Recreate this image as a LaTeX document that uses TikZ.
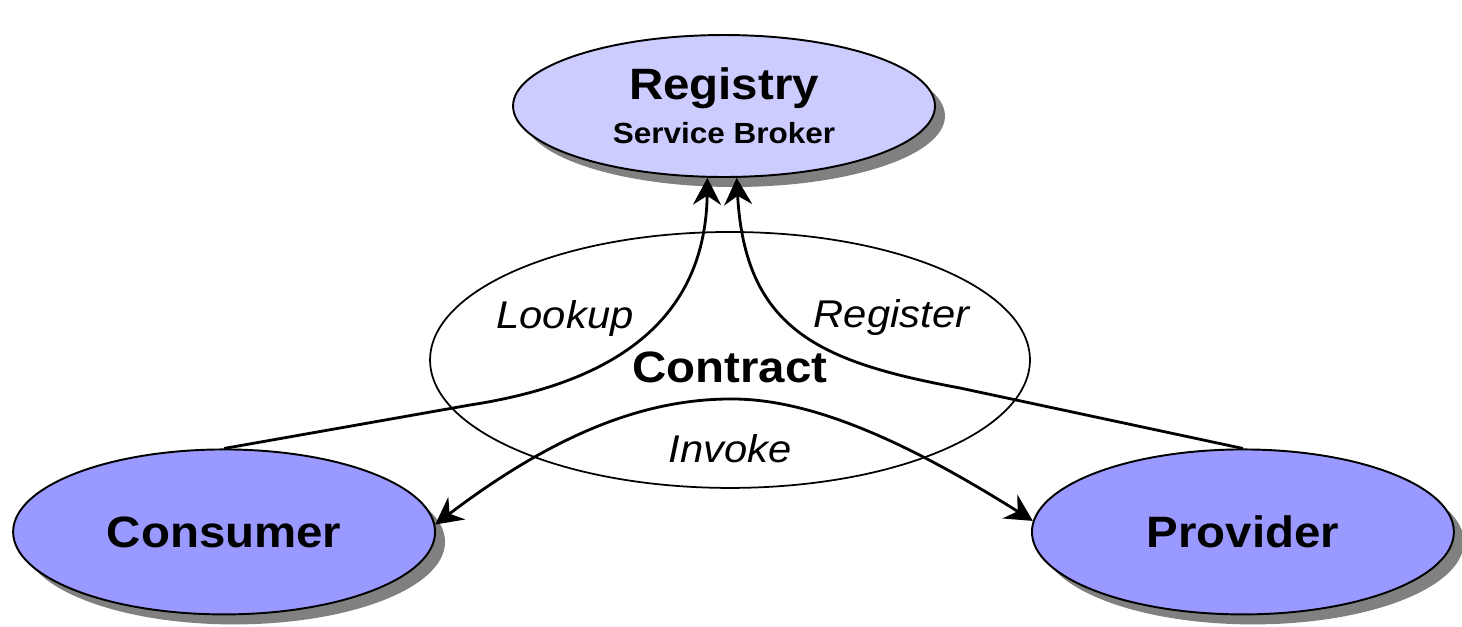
\documentclass[tikz,border=0pt]{standalone}
\usepackage{fontspec}
\setmainfont{Liberation Sans}[FakeStretch=1.08]
\usepackage{xcolor}
\usepackage{tikz}
\usetikzlibrary{arrows.meta, shapes, shadows, positioning}
\definecolor{regfill}{HTML}{CCCCFF}
\definecolor{partyfill}{HTML}{9999FF}
\tikzset{
    ellipsenode/.style = {draw, ellipse, line width=1.1pt, inner sep = 0em, node distance=0em,
      minimum width=8.44cm, minimum height=3.3cm,
      drop shadow={shadow xshift=0.2cm, shadow yshift=-0.2cm, fill=black!50, opacity=1}},
    contractnode/.style = {draw, ellipse, line width=1pt, inner sep = 0em, node distance=0em,
      minimum width=12cm, minimum height=5.12cm},
    textnode/.style = {draw=none, fill=none, rectangle, inner sep = 0em, node distance=0em},
    >={Stealth[length=0.54cm, width=0.56cm, inset=0.18cm]},
    connect/.style = {black, line width=1.6pt, ->},
    biconnect/.style = {black, line width=1.6pt, <->},
    every text node part/.style={align=center}
}
\newcommand{\headfont}{\fontsize{25}{30}\selectfont\bfseries}
\newcommand{\subfont}{\fontsize{16.6}{20}\selectfont\bfseries}
\newcommand{\tagfont}{\fontsize{22}{26}\selectfont\itshape}

\begin{document}
\begin{tikzpicture}[x=0.02cm, y=-0.02cm]
    \useasboundingbox (0,0) rectangle (1462,626);

    \node [name=registry, ellipsenode, fill=regfill, minimum height=2.84cm] at (724,106)
        {{\headfont Registry}\\[6.5pt]{\subfont Service Broker}};

    \node [name=contract, contractnode, below of = registry, xshift=0.12cm, yshift=-5.08cm] {};

    \node [name=consumer, ellipsenode, fill=partyfill, below of = contract,
        xshift=-10.12cm, yshift=-3.44cm] {\headfont Consumer};
    \node [name=provider, ellipsenode, fill=partyfill, below of = contract,
        xshift=10.26cm, yshift=-3.44cm] {\headfont Provider};

    \node [textnode, name=contracttxt, below of = contract, anchor=base, yshift=-0.46cm] {\headfont Contract};
    \node [textnode, name=lookup, above of = contract, anchor=base, xshift=-3.3cm, yshift=0.62cm] {\tagfont Lookup};
    \node [textnode, name=register, above of = contract, anchor=base, xshift=3.23cm, yshift=0.64cm] {\tagfont Register};
    \node [textnode, name=invoke, below of = contract, anchor=base, yshift=-2.06cm] {\tagfont Invoke};

    \coordinate (lookbend) at (470,405);
    \coordinate (regbend) at (960,388);
    \coordinate (invtop) at (735,399);

    \draw [connect] (consumer.north) -- (lookbend) .. controls (600,385) and (705,330) .. (registry.-103);
    \draw [connect] (provider.north) -- (regbend) .. controls (820,362) and (745,330) .. (registry.-80);
    \draw [biconnect] (consumer.2) .. controls (560,430) and (650,398) .. (invtop)
        .. controls (820,400) and (920,450) .. (provider.177);
\end{tikzpicture}
\end{document}
